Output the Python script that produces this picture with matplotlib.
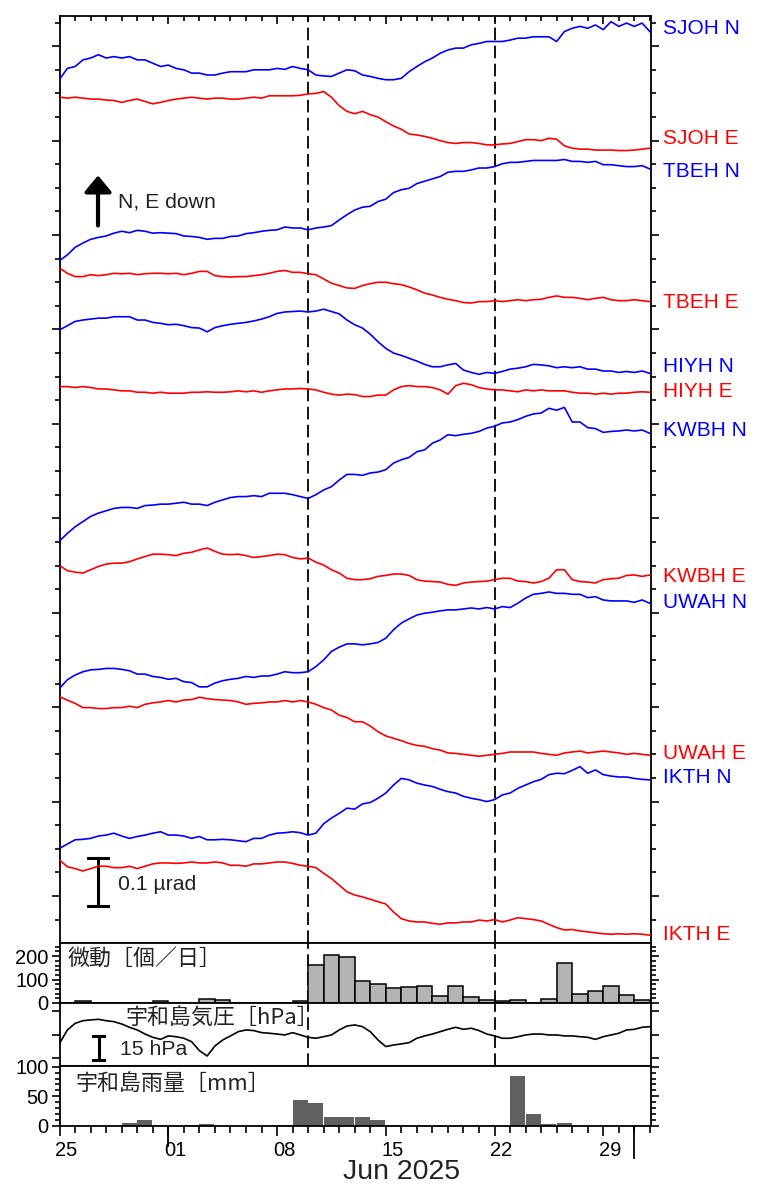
"""Tilt records at six stations with tremor counts, pressure and rainfall at Uwajima.

Tilt values are read off the reference figure every 12 h, in nrad relative to the
first sample; each trace is shifted by its own offset (µrad) for display.
"""
import matplotlib.dates as mdates
import matplotlib.pyplot as plt
import matplotlib.transforms as mtransforms
import numpy as np
from matplotlib.ticker import FixedLocator, MultipleLocator, NullFormatter

plt.rcParams["font.family"] = ["Liberation Sans", "DejaVu Sans"]
JP = ["Noto Sans CJK JP", "Liberation Sans"]

# --- time base ------------------------------------------------------------
START = np.datetime64("2025-05-25T00:00")
T = START + np.arange(77) * np.timedelta64(12, "h")            # tilt / pressure
DAYS = START + np.arange(38) * np.timedelta64(1, "D")          # daily bars
XMAX = START + np.timedelta64(913, "h")
EVENTS = [np.datetime64("2025-06-10T00:00"), np.datetime64("2025-06-22T00:00")]
TICK_DATES = np.array(["2025-05-25", "2025-06-01", "2025-06-08", "2025-06-15",
                       "2025-06-22", "2025-06-29"], dtype="datetime64[D]")
MONTH_STARTS = np.array(["2025-06-01", "2025-07-01"], dtype="datetime64[D]")

# --- tilt (nrad, relative to first sample), 12-hourly ---------------------
SJOH_N = [0, 23, 27, 41, 45, 52, 45, 48, 45, 48, 41, 41, 34, 27, 30, 23, 20, 13, 13, 9,
          9, 13, 16, 16, 16, 20, 20, 20, 23, 21, 27, 23, 20, 9, 7, 6, 13, 20, 18, 9,
          6, 2, -1, -1, 2, 16, 27, 37, 45, 55, 62, 66, 66, 73, 76, 80, 80, 80, 83, 87,
          87, 90, 90, 90, 80, 101, 108, 112, 108, 115, 105, 122, 112, 119, 112, 119, 101]
SJOH_E = [0, -2, 0, -2, -4, -4, -6, -7, -11, -7, -4, -9, -14, -11, -7, -4, -2, 0, -2, -4,
          -2, -2, -4, -4, -2, 0, -2, 3, 3, 3, 3, 4, 7, 8, 12, 0, -18, -30, -35, -30,
          -37, -42, -52, -61, -68, -78, -80, -83, -87, -92, -96, -98, -96, -96, -98, -101,
          -101, -99, -98, -94, -90, -90, -92, -87, -89, -103, -108, -110, -110, -112,
          -112, -112, -113, -113, -112, -110, -108]
TBEH_N = [0, 12, 28, 37, 45, 49, 52, 58, 62, 59, 64, 62, 58, 59, 58, 57, 52, 51, 49, 45,
          47, 47, 51, 52, 57, 59, 62, 64, 65, 71, 69, 69, 65, 69, 71, 74, 86, 97, 107, 113,
          115, 125, 130, 144, 150, 153, 163, 168, 173, 178, 187, 189, 189, 192, 196, 196,
          199, 205, 208, 208, 210, 212, 212, 212, 212, 214, 210, 210, 208, 210, 203, 203,
          201, 199, 199, 201, 194]
TBEH_E = [0, -11, -18, -18, -14, -16, -14, -11, -12, -11, -14, -12, -11, -11, -12, -11,
          -14, -11, -7, -7, -16, -18, -19, -18, -18, -16, -14, -11, -7, -5, -9, -9, -12,
          -14, -23, -32, -37, -42, -43, -37, -33, -30, -30, -33, -35, -40, -46, -53, -57,
          -62, -66, -69, -73, -74, -71, -71, -69, -71, -69, -67, -69, -67, -66, -62, -59,
          -62, -62, -64, -67, -64, -62, -67, -69, -69, -67, -69, -71]
HIYH_N = [0, 9, 18, 21, 23, 25, 25, 28, 28, 28, 21, 21, 16, 14, 11, 12, 9, 5, 4, -4,
          5, 9, 12, 14, 16, 19, 23, 28, 35, 38, 39, 40, 38, 40, 44, 39, 34, 21, 11, 4,
          -9, -25, -39, -49, -54, -60, -66, -73, -78, -78, -74, -71, -85, -90, -94, -90,
          -92, -88, -83, -81, -78, -73, -74, -76, -80, -78, -80, -78, -83, -83, -87, -87,
          -90, -88, -90, -87, -92]
HIYH_E = [0, 0, -2, 0, -2, -5, -5, -7, -9, -9, -12, -12, -14, -12, -14, -14, -14, -12,
          -12, -11, -12, -12, -11, -9, -11, -9, -12, -9, -7, -5, -5, -4, -5, -7, -12, -16,
          -18, -16, -17, -21, -21, -18, -18, -7, 0, 2, 0, 0, -2, -7, -16, 2, 7, 4, -2, -5,
          -7, -7, -9, -11, -7, -9, -7, -9, -9, -9, -12, -14, -14, -16, -14, -16, -14, -14,
          -12, -11, -12]
KWBH_N = [0, 16, 30, 41, 52, 59, 64, 69, 71, 71, 69, 75, 76, 78, 78, 80, 82, 78, 78, 75,
          82, 87, 92, 94, 94, 96, 94, 101, 101, 101, 98, 94, 90, 98, 108, 115, 129, 141,
          141, 139, 144, 146, 151, 165, 172, 177, 189, 193, 207, 214, 225, 223, 226, 228,
          232, 239, 243, 250, 252, 257, 264, 269, 271, 281, 277, 283, 252, 252, 240, 238,
          230, 232, 233, 235, 233, 235, 228]
KWBH_E = [0, -11, -14, -16, -9, -2, 3, 5, 5, 8, 14, 19, 24, 24, 23, 21, 26, 28, 33, 37,
          30, 24, 23, 24, 21, 17, 19, 21, 24, 23, 17, 14, 16, 7, 1, -9, -16, -27, -30, -30,
          -28, -23, -21, -18, -18, -21, -30, -33, -34, -35, -40, -42, -37, -35, -34, -33,
          -30, -27, -27, -33, -34, -37, -34, -27, -9, -9, -30, -34, -35, -37, -30, -28,
          -27, -21, -20, -23, -20]
UWAH_N = [0, 18, 28, 35, 39, 40, 42, 42, 40, 37, 30, 30, 25, 23, 19, 21, 14, 12, 3, 3,
          11, 16, 19, 21, 25, 23, 26, 26, 30, 35, 33, 33, 35, 46, 60, 78, 87, 94, 94, 92,
          94, 97, 106, 124, 138, 147, 155, 159, 161, 164, 166, 166, 168, 170, 168, 171,
          168, 173, 171, 180, 191, 199, 201, 204, 201, 201, 199, 199, 192, 194, 187, 185,
          185, 185, 182, 187, 180]
UWAH_E = [0, -7, -14, -23, -23, -25, -25, -23, -23, -20, -23, -16, -13, -11, -8, -11, -7,
          -6, -1, -4, -6, -7, -8, -11, -16, -14, -13, -11, -11, -8, -11, -8, -11, -16, -23,
          -28, -39, -44, -53, -53, -62, -74, -83, -88, -93, -99, -103, -105, -110, -113,
          -119, -120, -122, -124, -126, -124, -122, -120, -117, -117, -117, -117, -120,
          -122, -124, -119, -117, -115, -119, -117, -115, -117, -119, -122, -120, -122, -124]
IKTH_N = [0, 9, 18, 19, 21, 26, 28, 32, 26, 21, 25, 28, 32, 35, 28, 28, 26, 21, 25, 18,
          18, 19, 18, 16, 14, 21, 21, 28, 32, 33, 35, 33, 28, 32, 52, 64, 74, 85, 83, 94,
          97, 106, 117, 134, 148, 145, 138, 134, 131, 125, 120, 117, 110, 106, 103, 99,
          103, 113, 117, 127, 134, 141, 146, 156, 159, 158, 165, 173, 159, 166, 156, 153,
          151, 151, 148, 146, 145]
IKTH_E = [0, -14, -18, -23, -18, -13, -13, -16, -16, -13, -18, -13, -8, -6, -6, -7, -6,
          -4, -6, -6, -4, -6, -11, -11, -13, -8, -8, -6, -4, -4, -7, -11, -13, -16, -28,
          -39, -53, -67, -74, -78, -83, -88, -93, -110, -124, -129, -131, -131, -134, -136,
          -133, -133, -131, -131, -127, -129, -126, -131, -127, -122, -124, -126, -129,
          -136, -143, -148, -147, -150, -152, -154, -156, -157, -156, -157, -156, -157, -159]

STATIONS = ["SJOH N", "SJOH E", "TBEH N", "TBEH E", "HIYH N", "HIYH E",
            "KWBH N", "KWBH E", "UWAH N", "UWAH E", "IKTH N", "IKTH E"]
TILT = [SJOH_N, SJOH_E, TBEH_N, TBEH_E, HIYH_N, HIYH_E,
        KWBH_N, KWBH_E, UWAH_N, UWAH_E, IKTH_N, IKTH_E]
OFFSET = [1.730, 1.692, 1.346, 1.330, 1.199, 1.079, 0.752, 0.700, 0.440, 0.422, 0.101, 0.076]
LABEL_Y = [1.837, 1.604, 1.534, 1.258, 1.121, 1.068, 0.985, 0.676, 0.621, 0.301, 0.250, -0.081]

# --- Uwajima pressure (hPa), 12-hourly ------------------------------------
PRESSURE = [999.7, 1008.2, 1012.4, 1014.1, 1014.6, 1015.0, 1014.1, 1013.5, 1012.0, 1009.9,
            1008.2, 1005.6, 1003.5, 1002.2, 1004.4, 1003.9, 1002.9, 1000.7, 995.0, 991.6,
            998.0, 1001.8, 1004.4, 1007.1, 1008.2, 1007.8, 1006.5, 1006.1, 1005.6, 1005.0,
            1006.5, 1005.0, 1003.5, 1002.9, 1003.9, 1005.0, 1008.2, 1010.7, 1011.4, 1010.3,
            1007.1, 1001.8, 997.6, 998.6, 999.3, 1000.1, 1002.9, 1004.4, 1005.6, 1007.1,
            1008.6, 1009.9, 1008.6, 1009.3, 1007.8, 1005.6, 1004.4, 1002.9, 1002.9, 1003.9,
            1005.0, 1005.6, 1005.6, 1005.0, 1005.0, 1004.4, 1004.4, 1003.9, 1003.5, 1002.2,
            1003.9, 1005.0, 1006.1, 1008.2, 1008.6, 1009.9, 1010.3]

# --- daily tremor counts and rainfall (mm), 25 May - 1 Jul ----------------
TREMOR = [0, 10, 0, 0, 0, 0, 7, 0, 0, 19, 11, 0, 0, 0, 0, 8, 163, 206, 197, 94,
          80, 66, 69, 72, 30, 72, 24, 14, 7, 11, 0, 19, 170, 40, 51, 72, 34, 14]
RAIN = [0, 0, 0, 0, 4, 10, 0, 0, 1, 3, 0, 0, 0, 0, 1, 44, 39, 14, 15, 14,
        10, 0.5, 0, 0, 0, 0, 0, 0, 0, 85, 20, 3, 5, 0, 0, 0, 0, 0]

# --- layout (pixel rows of the 759x1189 figure) ---------------------------
W_PX, H_PX = 759, 1189
LEFT_PX, RIGHT_PX = 59.6, 650.5


def _axes(fig, top, bottom):
    return fig.add_axes([LEFT_PX / W_PX, 1 - bottom / H_PX,
                         (RIGHT_PX - LEFT_PX) / W_PX, (bottom - top) / H_PX])


def _events(ax):
    for ev in EVENTS:
        ax.axvline(ev, color="k", lw=1.3, ls=(0, (7, 3)), zorder=1)


def _ytick_style(ax):
    ax.tick_params(axis="y", which="both", left=True, right=True, direction="out",
                   width=1.2, labelsize=14.5, pad=2)
    ax.tick_params(axis="y", which="major", length=6)
    ax.tick_params(axis="y", which="minor", length=3.5)
    ax.tick_params(axis="x", which="both", bottom=False, top=False, labelbottom=False)
    for s in ax.spines.values():
        s.set_linewidth(1.3)
    ax.set_xlim(START, XMAX)


fig = plt.figure(figsize=(W_PX / 100, H_PX / 100), dpi=100)
ax = _axes(fig, 16, 943)
ax_t = _axes(fig, 943, 1003)
ax_p = _axes(fig, 1003, 1066)
ax_r = _axes(fig, 1066, 1125.5)

# --- main tilt panel ------------------------------------------------------
for name, vals, off in zip(STATIONS, TILT, OFFSET):
    col = "#0000ff" if name.endswith("N") else "#ff0000"
    ax.plot(T, off + np.asarray(vals) / 1000.0, color=col, lw=1.2, zorder=3)
lab_tr = mtransforms.blended_transform_factory(ax.transAxes, ax.transData)
for name, y in zip(STATIONS, LABEL_Y):
    col = "#0000ff" if name.endswith("N") else "#ff0000"
    ax.text(1.021, y, name, transform=lab_tr, color=col, fontsize=15,
            va="center", ha="left", clip_on=False)
_events(ax)
_ytick_style(ax)
ax.set_ylim(-0.0996, 1.864)
ax.yaxis.set_major_locator(MultipleLocator(0.2))
ax.yaxis.set_minor_locator(MultipleLocator(0.05))
ax.tick_params(axis="y", which="both", labelleft=False)
ax.xaxis.set_major_locator(FixedLocator(mdates.date2num(TICK_DATES)))
ax.xaxis.set_minor_locator(mdates.DayLocator())
ax.tick_params(axis="x", which="both", top=True, direction="in", width=1.2)
ax.tick_params(axis="x", which="major", length=6)
ax.tick_params(axis="x", which="minor", length=3.5)

# "N, E down" arrow and 0.1 µrad scale bar
ax.annotate("", xy=(0.065, 0.828), xytext=(0.065, 0.774), xycoords="axes fraction",
            arrowprops=dict(arrowstyle="-|>,head_length=0.3,head_width=0.25",
                            mutation_scale=33, lw=3, color="k",
                            shrinkA=0, shrinkB=0))
ax.text(0.0988, 0.7994, "N, E down", transform=ax.transAxes, fontsize=15.3,
        va="center", ha="left", color="#222222")
bar_tr = mtransforms.blended_transform_factory(ax.transAxes, ax.transData)
ax.plot([0.065, 0.065], [-0.021, 0.0795], transform=bar_tr, color="k", lw=2.2)
for yb in (-0.021, 0.0795):
    ax.plot([0.048, 0.082], [yb, yb], transform=bar_tr, color="k", lw=2.2)
ax.text(0.0988, 0.025, "0.1 µrad", transform=bar_tr, fontsize=15.3,
        va="center", ha="left", color="#222222")

# --- tremor counts --------------------------------------------------------
ax_t.bar(DAYS, TREMOR, width=1.0, align="edge", color="#b4b4b4",
         edgecolor="k", linewidth=1.1, zorder=2)
_events(ax_t)
_ytick_style(ax_t)
ax_t.set_ylim(0, 256)
ax_t.yaxis.set_major_locator(MultipleLocator(100))
ax_t.yaxis.set_minor_locator(MultipleLocator(20))
ax_t.text(0.013, 0.74, "微動［個／日］", transform=ax_t.transAxes, fontsize=15.8,
          family=JP, va="center", ha="left", color="#222222")

# --- pressure ---------------------------------------------------------------
ax_p.plot(T, PRESSURE, color="k", lw=1.2, zorder=3)
_events(ax_p)
_ytick_style(ax_p)
ax_p.set_ylim(985.2, 1025.4)
ax_p.yaxis.set_major_locator(FixedLocator([990, 1005, 1020]))
ax_p.yaxis.set_major_formatter(NullFormatter())
ax_p.text(0.111, 0.75, "宇和島気圧［hPa］", transform=ax_p.transAxes, fontsize=15.8,
          family=JP, va="center", ha="left", color="#222222")
pbar = mtransforms.blended_transform_factory(ax_p.transAxes, ax_p.transData)
ax_p.plot([0.066, 0.066], [989.2, 1004.2], transform=pbar, color="k", lw=2.2)
for yb in (989.2, 1004.2):
    ax_p.plot([0.057, 0.075], [yb, yb], transform=pbar, color="k", lw=2.2)
ax_p.text(0.102, 995.6, "15 hPa", transform=pbar, fontsize=15.3, va="center",
          ha="left", color="#222222")

# --- rainfall ---------------------------------------------------------------
ax_r.bar(DAYS, RAIN, width=0.96, align="edge", color="#606060", linewidth=0, zorder=2)
_ytick_style(ax_r)
ax_r.set_ylim(0, 101.5)
ax_r.yaxis.set_major_locator(MultipleLocator(50))
ax_r.yaxis.set_minor_locator(MultipleLocator(10))
ax_r.text(0.027, 0.69, "宇和島雨量［mm］", transform=ax_r.transAxes, fontsize=15.8,
          family=JP, va="center", ha="left", color="#222222")

ax_r.xaxis.set_major_locator(FixedLocator(mdates.date2num(TICK_DATES)))
ax_r.xaxis.set_minor_locator(mdates.DayLocator())
ax_r.xaxis.set_major_formatter(mdates.DateFormatter("%d"))
ax_r.tick_params(axis="x", which="both", bottom=True, labelbottom=True,
                 direction="out", width=1.2, labelsize=14.5, pad=4)
ax_r.tick_params(axis="x", which="major", length=7)
ax_r.tick_params(axis="x", which="minor", length=5)
shift = mtransforms.ScaledTranslation(0.07, 0, fig.dpi_scale_trans)
for lab in ax_r.get_xticklabels():
    lab.set_transform(lab.get_transform() + shift)
tick_tr = mtransforms.blended_transform_factory(ax_r.transData, ax_r.transAxes)
for m, depth in zip(MONTH_STARTS, (-0.34, -0.54)):
    ax_r.plot([m, m], [0, depth], transform=tick_tr, color="k", lw=1.3, clip_on=False)
ax_r.text(np.datetime64("2025-06-16T00:00"), -0.78, "Jun 2025", transform=tick_tr,
          fontsize=20.5, ha="center", va="center", color="#222222")

fig.savefig("out.png", dpi=100)
